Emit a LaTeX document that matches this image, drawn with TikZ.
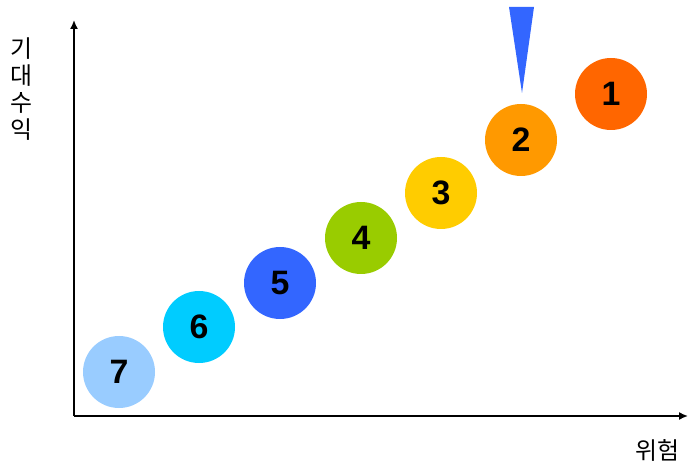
\documentclass[tikz,border=0pt]{standalone}
\usepackage{fontspec}
\usetikzlibrary{arrows.meta}
\setmainfont{Liberation Sans}
\newfontfamily\kr{Noto Sans CJK KR}
\definecolor{c1}{HTML}{FF6600}
\definecolor{c2}{HTML}{FF9900}
\definecolor{c3}{HTML}{FFCC00}
\definecolor{c4}{HTML}{99CC00}
\definecolor{c5}{HTML}{3366FF}
\definecolor{c6}{HTML}{00CCFF}
\definecolor{c7}{HTML}{99CCFF}
\tikzset{
  palla/.style={circle, minimum size=72bp, inner sep=0pt, font=\fontsize{34}{34}\selectfont\bfseries},
  asse/.style={line width=1.6bp, -{Latex[length=9bp,width=8bp]}},
  etichetta/.style={font=\kr\fontsize{24}{28}\selectfont}
}

\begin{document}
\begin{tikzpicture}[x=1bp, y=-1bp]
        \useasboundingbox (0,0) rectangle (688,465); % dimensioni della figura
        \coordinate (O) at (74,416); % origine degli assi
        \coordinate (Y) at (74,20); % fine asse verticale
        \coordinate (X) at (688,416); % fine asse orizzontale
        \draw[asse] (O) -- (Y); % asse del rendimento atteso
        \draw[asse] (O) -- (X); % asse del rischio
        \node (ylab) [etichetta, align=center, inner sep=0pt] at (21,89) {기\\[-1bp]대\\[-1bp]수\\[-1bp]익}; % etichetta verticale
        \node (xlab) [etichetta] at (657,450) {위험}; % etichetta orizzontale
        \node (p7) [palla, fill=c7] at (119,372) {7}; % livello 7
        \node (p6) [palla, fill=c6] at (199,327) {6}; % livello 6
        \node (p5) [palla, fill=c5] at (280,283) {5}; % livello 5
        \node (p4) [palla, fill=c4] at (361,238) {4}; % livello 4
        \node (p3) [palla, fill=c3] at (441,193) {3}; % livello 3
        \node (p2) [palla, fill=c2] at (521,140) {2}; % livello 2
        \node (p1) [palla, fill=c1] at (611,94) {1}; % livello 1
        \fill[c5] (509,7) -- (534,7) -- (522,93) -- cycle; % indicatore sopra il 2
    \end{tikzpicture}
\end{document}
